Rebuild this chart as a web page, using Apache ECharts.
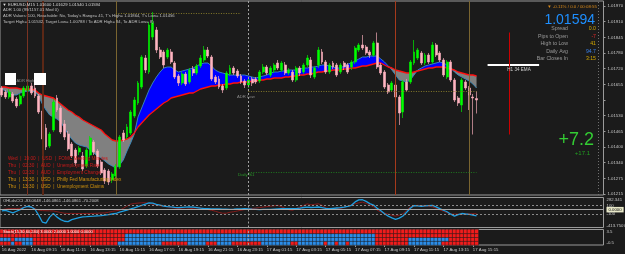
<!DOCTYPE html>
<html><head><meta charset="utf-8">
<script src="https://cdn.jsdelivr.net/npm/echarts@6/dist/echarts.min.js"></script>
<style>html,body{margin:0;padding:0;background:#1b1b1b;}#c{width:625px;height:254px;}</style>
</head><body><div id="c"></div>
<script>
// ---------- DATA ----------
// M15 bars, 16 Aug 07:15 .. 17 Aug 15:30 : [open, close, low, high]
const candles = [
[1.01642,1.01614,1.01606,1.01650],[1.01626,1.01606,1.01598,1.01634],[1.01606,1.01626,1.01598,1.01638],[1.01618,1.01590,1.01582,1.01626],[1.01598,1.01570,1.01562,1.01606],
[1.01578,1.01610,1.01570,1.01618],[1.01610,1.01642,1.01602,1.01650],[1.01630,1.01650,1.01622,1.01658],[1.01650,1.01622,1.01614,1.01662],[1.01642,1.01610,1.01602,1.01654],
[1.01610,1.01546,1.01538,1.01618],[1.01550,1.01438,1.01430,1.01558],[1.01482,1.01406,1.01394,1.01498],[1.01410,1.01458,1.01402,1.01466],[1.01474,1.01586,1.01466,1.01598],
[1.01602,1.01554,1.01546,1.01614],[1.01562,1.01466,1.01458,1.01570],[1.01498,1.01446,1.01434,1.01514],[1.01458,1.01398,1.01390,1.01470],[1.01418,1.01370,1.01362,1.01426],
[1.01394,1.01342,1.01330,1.01402],[1.01386,1.01402,1.01374,1.01410],[1.01370,1.01318,1.01310,1.01386],[1.01330,1.01394,1.01322,1.01402],[1.01374,1.01442,1.01362,1.01450],
[1.01426,1.01386,1.01374,1.01434],[1.01390,1.01330,1.01322,1.01398],[1.01346,1.01302,1.01294,1.01354],[1.01314,1.01270,1.01258,1.01322],[1.01310,1.01266,1.01254,1.01318],
[1.01274,1.01298,1.01262,1.01306],[1.01290,1.01330,1.01282,1.01338],[1.01326,1.01446,1.01318,1.01454],[1.01462,1.01434,1.01426,1.01474],[1.01446,1.01486,1.01438,1.01498],
[1.01462,1.01546,1.01454,1.01554],[1.01530,1.01594,1.01522,1.01606],[1.01582,1.01662,1.01574,1.01670],[1.01646,1.01766,1.01638,1.01774],[1.01762,1.01714,1.01702,1.01774],
[1.01706,1.01894,1.01698,1.01906],[1.01846,1.01902,1.01834,1.01946],[1.01874,1.01794,1.01782,1.01886],[1.01794,1.01766,1.01758,1.01806],[1.01786,1.01734,1.01722,1.01794],
[1.01766,1.01794,1.01758,1.01802],[1.01786,1.01746,1.01738,1.01798],[1.01742,1.01686,1.01678,1.01750],[1.01690,1.01662,1.01650,1.01698],[1.01662,1.01698,1.01654,1.01706],
[1.01698,1.01658,1.01650,1.01706],[1.01666,1.01714,1.01658,1.01722],[1.01718,1.01702,1.01690,1.01730],[1.01702,1.01730,1.01694,1.01738],[1.01730,1.01762,1.01722,1.01774],
[1.01754,1.01794,1.01746,1.01810],[1.01794,1.01770,1.01762,1.01806],[1.01766,1.01678,1.01670,1.01774],[1.01686,1.01666,1.01658,1.01694],[1.01678,1.01646,1.01638,1.01690],
[1.01650,1.01634,1.01622,1.01658],[1.01642,1.01702,1.01634,1.01710],[1.01698,1.01722,1.01690,1.01734],[1.01722,1.01702,1.01694,1.01730],[1.01710,1.01690,1.01682,1.01718],
[1.01690,1.01666,1.01658,1.01698],[1.01670,1.01654,1.01642,1.01678],[1.01654,1.01674,1.01642,1.01682],[1.01678,1.01662,1.01650,1.01686],[1.01678,1.01666,1.01658,1.01686],
[1.01670,1.01706,1.01662,1.01714],[1.01706,1.01726,1.01698,1.01738],[1.01726,1.01702,1.01694,1.01734],[1.01694,1.01722,1.01686,1.01730],[1.01714,1.01734,1.01702,1.01742],
[1.01742,1.01722,1.01714,1.01754],[1.01714,1.01742,1.01706,1.01750],[1.01734,1.01702,1.01694,1.01746],[1.01702,1.01714,1.01694,1.01722],[1.01706,1.01674,1.01666,1.01714],
[1.01674,1.01722,1.01666,1.01730],[1.01722,1.01702,1.01690,1.01730],[1.01706,1.01734,1.01698,1.01742],[1.01734,1.01762,1.01726,1.01774],[1.01754,1.01694,1.01682,1.01766],
[1.01686,1.01722,1.01678,1.01730],[1.01734,1.01794,1.01722,1.01806],[1.01786,1.01746,1.01738,1.01798],[1.01746,1.01706,1.01698,1.01754],[1.01706,1.01734,1.01698,1.01742],
[1.01742,1.01726,1.01718,1.01750],[1.01734,1.01694,1.01686,1.01742],[1.01706,1.01734,1.01698,1.01742],[1.01742,1.01726,1.01714,1.01750],[1.01734,1.01706,1.01698,1.01742],
[1.01726,1.01746,1.01714,1.01754],[1.01746,1.01802,1.01738,1.01810],[1.01794,1.01814,1.01786,1.01822],[1.01814,1.01802,1.01794,1.01854],[1.01806,1.01782,1.01774,1.01814],
[1.01786,1.01774,1.01762,1.01794],[1.01774,1.01822,1.01766,1.01830],[1.01822,1.01726,1.01718,1.01864],[1.01734,1.01702,1.01694,1.01742],[1.01706,1.01646,1.01638,1.01714],
[1.01654,1.01626,1.01618,1.01662],[1.01634,1.01662,1.01626,1.01670],[1.01654,1.01606,1.01598,1.01662],[1.01606,1.01542,1.01494,1.01614],[1.01546,1.01666,1.01522,1.01674],
[1.01666,1.01634,1.01626,1.01678],[1.01666,1.01746,1.01658,1.01754],[1.01742,1.01786,1.01734,1.01834],[1.01762,1.01794,1.01754,1.01802],[1.01782,1.01742,1.01734,1.01790],
[1.01742,1.01774,1.01734,1.01782],[1.01774,1.01746,1.01738,1.01782],[1.01746,1.01814,1.01738,1.01826],[1.01814,1.01774,1.01766,1.01822],[1.01782,1.01754,1.01746,1.01790],
[1.01754,1.01694,1.01686,1.01762],[1.01686,1.01746,1.01678,1.01754],[1.01746,1.01674,1.01666,1.01754],[1.01674,1.01594,1.01586,1.01682],[1.01602,1.01582,1.01570,1.01610],
[1.01574,1.01674,1.01546,1.01682],[1.01666,1.01642,1.01634,1.01674],[1.01642,1.01614,1.01554,1.01650],[1.01606,1.01602,1.01456,1.01618],[1.01600,1.01594,1.01540,1.01629]
];
// slow EMA (red) and fast EMA (steel blue) of the cloud
const emaSlow = [
1.01646,1.01646,1.01642,1.01642,1.01642,1.01638,1.01638,1.01638,1.01638,1.01634,
1.01622,1.01614,1.01610,1.01606,1.01602,1.01590,1.01578,1.01566,1.01554,1.01546,
1.01534,1.01526,1.01514,1.01506,1.01498,1.01490,1.01482,1.01474,1.01458,1.01446,
1.01434,1.01430,1.01430,1.01434,1.01438,1.01446,1.01462,1.01486,1.01502,1.01518,
1.01534,1.01546,1.01558,1.01570,1.01582,1.01590,1.01602,1.01606,1.01610,1.01614,
1.01618,1.01622,1.01622,1.01630,1.01638,1.01642,1.01646,1.01650,1.01650,1.01654,
1.01654,1.01658,1.01658,1.01662,1.01662,1.01666,1.01666,1.01666,1.01670,1.01670,
1.01674,1.01674,1.01678,1.01678,1.01682,1.01682,1.01682,1.01686,1.01686,1.01690,
1.01690,1.01694,1.01694,1.01698,1.01698,1.01702,1.01706,1.01706,1.01710,1.01710,
1.01714,1.01714,1.01714,1.01718,1.01718,1.01722,1.01722,1.01726,1.01730,1.01730,
1.01734,1.01738,1.01742,1.01742,1.01734,1.01726,1.01722,1.01714,1.01710,1.01706,
1.01702,1.01702,1.01706,1.01710,1.01714,1.01718,1.01722,1.01722,1.01726,1.01726,
1.01726,1.01722,1.01718,1.01714,1.01706,1.01702,1.01698,1.01694,1.01694,1.01690];
const emaFast = [
1.01638,1.01630,1.01622,1.01614,1.01614,1.01622,1.01626,1.01630,1.01630,1.01626,
1.01610,1.01578,1.01554,1.01534,1.01526,1.01518,1.01506,1.01482,1.01458,1.01438,
1.01422,1.01414,1.01410,1.01406,1.01394,1.01382,1.01370,1.01362,1.01350,1.01338,
1.01330,1.01322,1.01334,1.01354,1.01390,1.01422,1.01458,1.01526,1.01562,1.01598,
1.01634,1.01662,1.01686,1.01706,1.01722,1.01726,1.01726,1.01714,1.01706,1.01710,
1.01714,1.01718,1.01722,1.01730,1.01738,1.01742,1.01742,1.01730,1.01714,1.01706,
1.01702,1.01698,1.01694,1.01694,1.01694,1.01694,1.01694,1.01690,1.01686,1.01682,
1.01686,1.01690,1.01694,1.01702,1.01706,1.01706,1.01710,1.01710,1.01714,1.01714,
1.01714,1.01718,1.01722,1.01722,1.01726,1.01726,1.01730,1.01734,1.01734,1.01730,
1.01726,1.01722,1.01722,1.01730,1.01738,1.01742,1.01750,1.01758,1.01766,1.01766,
1.01770,1.01770,1.01770,1.01758,1.01746,1.01730,1.01714,1.01694,1.01674,1.01670,
1.01666,1.01674,1.01694,1.01714,1.01722,1.01730,1.01734,1.01738,1.01742,1.01746,
1.01742,1.01734,1.01722,1.01706,1.01694,1.01686,1.01678,1.01670,1.01658,1.01642];
// OHLdsCCI panel
const cciFast = [
-29.6,-18.2,-47.9,-75.2,-36.5,2.3,50.2,77.5,61.6,9.1,
-127.7,-287.3,-310.1,-173.3,-88.9,-173.3,-230.3,-269,-275.9,-230.3,
-207.5,-184.7,-166.4,-161.9,-155,-150.5,-143.6,-136.8,-127.7,-116.3,
-100.3,-88.9,-59.3,-31.9,-9.1,16,43.3,73,100.3,127.7,
155,150.5,123.1,104.9,84.4,73,63.8,54.7,47.9,52.4,
57,61.6,57,45.6,34.2,25.1,22.8,20.5,18.2,16,
13.7,11.4,9.1,11.4,16,20.5,25.1,18.2,11.4,6.8,
2.3,4.6,6.8,9.1,13.7,18.2,22.8,25.1,25.1,25.1,
25.1,36.5,50.2,57,50.2,54.7,61.6,47.9,31.9,25.1,
31.9,38.8,45.6,59.3,77.5,100.3,180.1,225.7,230.3,191.5,
141.4,107.2,31.9,-25.1,-93.5,-150.5,-191.5,-223.4,-196.1,-145.9,
-59.3,31.9,95.8,88.9,77.5,86.6,95.8,100.3,66.1,25.1,
-13.7,-47.9,-104.9,-150.5,-116.3,-88.9,-100.3,-109.4,-127.7,-146.1];
const cciSlow = [
2.3,13.7,25.1,25.1,25.1,31.9,54.7,73,66.1,20.5,
-13.7,-20.5,-25.1,-27.4,-29.6,-47.9,-66.1,-82.1,-88.9,-86,
-90,-88,-91,-87,-89,-86.6,-82.1,-77.5,-75.2,-59.3,
-41,-25.1,-13.7,31.9,82.1,127.7,143.6,152.8,159.6,161.9,
145.9,127.7,109.4,93.5,79.8,63.8,50.2,38.8,27.4,16,
9.1,20.5,31.9,43.3,36.5,20.5,2.3,-13.7,-36.5,-63.8,
-82.1,-82.1,-59.3,-47.9,-31.9,-13.7,2.3,16,25.1,36.5,
47.9,59.3,70.7,82.1,91.2,100.3,66.1,31.9,-2.3,-13.7,
20.5,59.3,95.8,134.5,111.7,123.1,136.8,100.3,43.3,25.1,
25.1,25.1,25.1,54.7,82.1,111.7,139.1,157.3,175.6,145.9,
111.7,66.1,-13.7,-54.7,-82.1,-104.9,-127.7,-150.5,-127.7,-93.5,
-13.7,66.1,88.9,100.3,93.5,88.9,82.1,63.8,31.9,-2.3,
-36.5,-70.7,-104.9,-102,-106,-101,-98,-97,-95,-93.1];
const cciMax = 282.341, cciMin = -413.7507;
const cciScaleText = ['282.341', '-413.7507'];
// 4-row trend strip, runs of (r = red, b = blue) per bar, row 0 = bottom
const stochRuns = [
 [['r',3],['b',1],['r',2],['b',3],['r',23],['b',12],['r',7],['b',5],['r',3],['b',4],['r',8],['b',8],['r',2],['b',7],['r',1],['b',2],['r',1],['b',2],['r',1],['b',7],['r',9],['b',9],['r',10]],
 [['b',3],['r',1],['b',5],['r',25],['b',68],['r',9],['b',11],['r',8]],
 [['r',34],['b',68],['r',28]],
 [['r',130]]
];
const stripScaleText = ['3.5', '-0.5'];
// right price scale (top to bottom), hidden one sits under the bid box
const priceTicks = ['1.01970','1.01910','1.01845','1.01780','1.01720','1.01655','','1.01530','1.01465','1.01400','1.01340','1.01275','1.01215'];
const timeLabels = ['16 Aug 2022','16 Aug 09:15','16 Aug 11:15','16 Aug 13:15','16 Aug 15:15','16 Aug 17:15','16 Aug 19:15','16 Aug 21:15','16 Aug 23:15','17 Aug 01:15','17 Aug 03:15','17 Aug 05:15','17 Aug 07:15','17 Aug 09:15','17 Aug 11:15','17 Aug 13:15','17 Aug 15:15'];
const labelStep = 8;
const bid = 1.01594;
// levels
const dailyPivotLine = 1.01666, yHighLine = 1.01940, adrLowLine = 1.01630, dailyS1 = 1.01306, h1Ema = 1.01735;
const todayHigh = 1.01864, todayLow = 1.01456;
// event bars (bar index)
const eventBars = [[7,'#7a3322',1],[11,'#5c2816',2],[31,'#7a6530',1],[107,'#a63a1c',1],[127,'#7a6530',1]];
const daySepBar = 67;
const slotCount = 164;

// ---------- BUILD ----------
const cats = Array.from({length: slotCount}, (_, i) => String(i));
const cloudBase = emaSlow.map((s, i) => Math.min(s, emaFast[i]));
const cloudUp = emaSlow.map((s, i) => emaFast[i] > s ? +(emaFast[i] - s).toFixed(6) : 0);
const cloudDown = emaSlow.map((s, i) => s > emaFast[i] ? +(s - emaFast[i]).toFixed(6) : 0);
const stripData = [];
stochRuns.forEach((runs, r) => { let i = 0; runs.forEach(([c, n]) => { for (let k = 0; k < n; k++) { stripData.push([i, r, c === 'b' ? 1 : 0]); i++; } }); });

const FONT = '"Liberation Sans","DejaVu Sans",Arial,sans-serif';
const LBL = '#c8c8c8', BORDER = '#9a9a9a';
function T(x, y, text, fill, size, align) {
  return {type: 'text', x: x, y: y, z: 100, silent: true,
    style: {text: text, fill: fill, font: size + 'px ' + FONT, align: align || 'left', verticalAlign: 'middle'}};
}
const graphics = [
  T(2.5, 4.5, '\u25BC', '#e0e0e0', 4),
  T(8, 4.5, 'EURUSD,M15 1.01600 1.01629 1.01540 1.01594', '#d8d8d8', 4.2),
  T(3, 10.2, 'ADR 1.00 (99/1157.01 Med 0)', '#c0c0c0', 4.2),
  T(3, 15.7, "ADR Values: 100, Reachable: No, Today's Range= 41, T's High= 1.01864, T's Low= 1.01456", '#c0c0c0', 4.2),
  T(3, 21.8, 'Target High= 1.01532, Target Low= 1.00788 / To ADR High= 94, To ADR Low= 8)', '#c0c0c0', 4.2),
  {type: 'rect', z: 100, silent: true, shape: {x: 5, y: 73, width: 11, height: 12}, style: {fill: '#ffffff'}},
  {type: 'rect', z: 100, silent: true, shape: {x: 34, y: 73, width: 12, height: 12}, style: {fill: '#ffffff'}},
  T(16.5, 80.5, 'ADR High', '#8a8a8a', 4),
  T(237, 96.8, 'ADR Low', '#8a8a8a', 4.2),
  T(238, 175, 'Daily S1', '#2a9a2a', 4.4),
  T(519, 69.5, 'H1 34 EMA', '#cfcfcf', 4.6, 'center'),
  T(8, 159, 'Wed  |  19:00  |  USD  |  FOMC Meeting Minutes', '#cc1a1a', 4.7),
  T(8, 166, 'Thu  |  02:30  |  AUD  |  Unemployment Rate', '#cc1a1a', 4.7),
  T(8, 173, 'Thu  |  02:30  |  AUD  |  Employment Change', '#cc1a1a', 4.7),
  T(8, 180, 'Thu  |  13:30  |  USD  |  Philly Fed Manufacturing Index', '#d4940c', 4.7),
  T(8, 187, 'Thu  |  13:30  |  USD  |  Unemployment Claims', '#d4940c', 4.7),
  T(597, 7, '\u25BC -0.11% / 0.0 / 00:08:55', '#d98a1a', 4.4, 'right'),
  T(595, 20.5, '1.01594', '#1e8fff', 14, 'right'),
  T(568, 29, 'Spread', '#9a9a9a', 5.2, 'right'), T(596, 29, '0.0', '#d4a800', 5.2, 'right'),
  T(568, 36.5, 'Pips to Open', '#9a9a9a', 5.2, 'right'), T(596, 36.5, '-7', '#e02828', 5.2, 'right'),
  T(568, 43.8, 'High to Low', '#9a9a9a', 5.2, 'right'), T(596, 43.8, '41', '#d4a800', 5.2, 'right'),
  T(568, 51.2, 'Daily Avg', '#9a9a9a', 5.2, 'right'), T(596, 51.2, '94.7', '#3a80e8', 5.2, 'right'),
  T(568, 58.6, 'Bar Closes In', '#9a9a9a', 5.2, 'right'), T(596, 58.6, '3:15', '#d4a800', 5.2, 'right'),
  T(594, 140, '+7.2', '#33cc33', 18, 'right'),
  T(590, 153, '+17.1', '#22a022', 6, 'right'),
  T(3, 201, 'OHLdsCCI -93.0648 -146.0861 -146.0861 -70.2008', '#c8c8c8', 4.2),
  T(3, 232, 'Stoch(15,30,60,240) 3.0000 2.0000 1.0000 0.0000', '#ffffff', 4)
];

const vLine = (b, color, w, type) => ({xAxis: b, lineStyle: {color: color, width: w, type: type || 'solid'}});
const mainMarks = [
  ...eventBars.map(e => vLine(e[0], e[1], e[2])),
  vLine(daySepBar, '#a0a0a0', 1, [2, 2]),
  vLine(162, '#707070', 1, [1, 2]),
  {yAxis: dailyPivotLine, lineStyle: {color: '#1f8a1f', width: 1, type: [6, 2, 1, 2]}},
  {yAxis: bid, lineStyle: {color: '#a8a8a8', width: 1, type: 'solid'},
   label: {show: true, position: 'end', distance: 2, formatter: '1.01594', color: '#000', backgroundColor: '#e8e8e8', padding: [1, 2, 0.5, 2], fontSize: 4.3, fontFamily: FONT}},
  [{coord: [31, yHighLine], lineStyle: {color: '#857a2a', width: 1, type: [1, 1.5]}}, {coord: [65, yHighLine]}],
  [{coord: [67, adrLowLine], lineStyle: {color: '#857a2a', width: 1, type: [1, 1.5]}}, {coord: [129, adrLowLine]}],
  [{coord: [67, dailyS1], lineStyle: {color: '#1f7a1f', width: 1, type: [1, 1.5]}}, {coord: [129, dailyS1]}],
  [{coord: [132, h1Ema], lineStyle: {color: '#ffffff', width: 2, type: 'solid'}}, {coord: [146, h1Ema]}],
  [{coord: [138, todayHigh], lineStyle: {color: '#cc0000', width: 1, type: 'solid'}}, {coord: [138, todayLow]}]
];
const cciMarks = [
  {yAxis: 100, lineStyle: {color: '#8a8a8a', width: 1, type: [2, 2]}, label: {show: true, formatter: '100'}},
  {yAxis: 0, lineStyle: {color: '#a8a8a8', width: 1, type: 'solid'},
   label: {show: true, formatter: '0.0000', color: '#000', backgroundColor: '#e8e8c8', padding: [1, 2, 0.5, 2]}},
  {yAxis: -100, lineStyle: {color: '#8a8a8a', width: 1, type: [2, 2]}, label: {show: true, formatter: '-100'}},
  vLine(daySepBar, '#a0a0a0', 1, [2, 2])
];
const mlBase = {symbol: ['none', 'none'], silent: true, animation: false,
  label: {show: false, position: 'end', distance: 3, color: LBL, fontSize: 4.3, fontFamily: FONT}, emphasis: {disabled: true}};

const near = (a, b) => Math.abs(a - b) < 1e-6;
const hideAxis = {show: false};
const option = {
  backgroundColor: '#1b1b1b',
  animation: false,
  textStyle: {fontFamily: FONT},
  grid: [
    {left: 0, top: 1, width: 603.5, height: 194, show: true, borderColor: BORDER, borderWidth: 1, backgroundColor: 'transparent', containLabel: false, outerBoundsMode: 'none'},
    {left: 0, top: 197.5, width: 603.5, height: 30, show: true, borderColor: BORDER, borderWidth: 1, backgroundColor: 'transparent', containLabel: false, outerBoundsMode: 'none'},
    {left: 0, top: 229.5, width: 603.5, height: 15.5, show: true, borderColor: BORDER, borderWidth: 1, backgroundColor: 'transparent', containLabel: false, outerBoundsMode: 'none'},
    {left: 603.5, top: 6, width: 1, height: 188, show: false, containLabel: false, outerBoundsMode: 'none'}
  ],
  xAxis: [
    {type: 'category', gridIndex: 0, data: cats, boundaryGap: true, show: false},
    {type: 'category', gridIndex: 1, data: cats, boundaryGap: true, show: false},
    {type: 'category', gridIndex: 2, data: cats, boundaryGap: true, position: 'bottom',
      axisLine: {show: false, onZero: false},
      axisTick: {show: true, alignWithLabel: true, length: 2, interval: (i) => i % labelStep === 0 && i / labelStep < timeLabels.length, lineStyle: {color: BORDER}},
      axisLabel: {show: true, interval: (i) => i % labelStep === 0 && i / labelStep < timeLabels.length,
        formatter: (v, i) => timeLabels[i / labelStep] || '', align: 'left', margin: 2.5, fontSize: 4.3, color: LBL, fontFamily: FONT},
      splitLine: {show: false}},
    {type: 'value', gridIndex: 3, show: false}
  ],
  yAxis: [
    {type: 'value', gridIndex: 0, min: 1.01214, max: 1.01990, show: false, splitLine: {show: false}},
    {type: 'value', gridIndex: 1, min: cciMin, max: cciMax, position: 'right', splitLine: {show: false},
      axisLine: {show: false}, axisTick: {show: false},
      axisLabel: {show: true, margin: 3, fontSize: 4.3, color: LBL, fontFamily: FONT, showMinLabel: true, showMaxLabel: true,
        verticalAlignMaxLabel: 'top', verticalAlignMinLabel: 'bottom',
        formatter: (v) => near(v, cciMax) ? cciScaleText[0] : (near(v, cciMin) ? cciScaleText[1] : '')}},
    {type: 'category', gridIndex: 2, data: ['0', '1', '2', '3'], show: false},
    {type: 'value', gridIndex: 2, min: 0, max: 1, position: 'right', splitLine: {show: false},
      axisLine: {show: false}, axisTick: {show: false},
      axisLabel: {show: true, margin: 3, fontSize: 4.3, color: LBL, fontFamily: FONT, showMinLabel: true, showMaxLabel: true,
        verticalAlignMaxLabel: 'top', verticalAlignMinLabel: 'bottom',
        formatter: (v) => near(v, 1) ? stripScaleText[0] : (near(v, 0) ? stripScaleText[1] : '')}},
    {type: 'category', gridIndex: 3, data: priceTicks, inverse: true, boundaryGap: false, position: 'right',
      axisLine: {show: false}, axisTick: {show: true, length: 2, interval: 0, lineStyle: {color: BORDER}},
      axisLabel: {show: true, interval: 0, margin: 3, fontSize: 4.3, color: LBL, fontFamily: FONT}, splitLine: {show: false}}
  ],
  visualMap: [{type: 'piecewise', show: false, seriesIndex: 8, dimension: 2,
    pieces: [{value: 0, color: '#f21c1c'}, {value: 1, color: '#2b8de8'}]}],
  series: [
    {name: 'base', type: 'line', xAxisIndex: 0, yAxisIndex: 0, stack: 'cloud', data: cloudBase, showSymbol: false, symbol: 'none',
      lineStyle: {opacity: 0}, z: 1, silent: true},
    {name: 'up', type: 'line', xAxisIndex: 0, yAxisIndex: 0, stack: 'cloud', data: cloudUp, showSymbol: false, symbol: 'none',
      lineStyle: {opacity: 0}, areaStyle: {color: '#0000ff', opacity: 1}, z: 1, silent: true},
    {name: 'down', type: 'line', xAxisIndex: 0, yAxisIndex: 0, stack: 'cloud', data: cloudDown, showSymbol: false, symbol: 'none',
      lineStyle: {opacity: 0}, areaStyle: {color: '#808080', opacity: 1}, z: 1, silent: true},
    {name: 'emaFast', type: 'line', xAxisIndex: 0, yAxisIndex: 0, data: emaFast, showSymbol: false, symbol: 'none',
      lineStyle: {color: '#3a8cc0', width: 0.9}, z: 2, silent: true},
    {name: 'emaSlow', type: 'line', xAxisIndex: 0, yAxisIndex: 0, data: emaSlow, showSymbol: false, symbol: 'none',
      lineStyle: {color: '#ff1010', width: 1.3}, z: 2, silent: true},
    {name: 'price', type: 'candlestick', xAxisIndex: 0, yAxisIndex: 0, data: candles, barWidth: 2.4, z: 3, silent: true,
      itemStyle: {color: '#00ff00', color0: '#ffb6c1', borderColor: '#00e800', borderColor0: '#f0a8b4', borderWidth: 0.7},
      markLine: Object.assign({}, mlBase, {data: mainMarks})},
    {name: 'cciFast', type: 'line', xAxisIndex: 1, yAxisIndex: 1, data: cciFast, showSymbol: false, symbol: 'none',
      lineStyle: {color: '#1e9ee0', width: 1.3}, z: 3, silent: true,
      markLine: Object.assign({}, mlBase, {data: cciMarks})},
    {name: 'cciSlow', type: 'line', xAxisIndex: 1, yAxisIndex: 1, data: cciSlow, showSymbol: false, symbol: 'none',
      lineStyle: {color: '#8e1a1a', width: 0.9}, z: 2, silent: true},
    {name: 'strip', type: 'heatmap', xAxisIndex: 2, yAxisIndex: 2, data: stripData, silent: true,
      itemStyle: {borderColor: '#1b1b1b', borderWidth: 0.5}},
    {name: 'sep', type: 'line', xAxisIndex: 2, yAxisIndex: 2, data: [], silent: true,
      markLine: Object.assign({}, mlBase, {data: [vLine(daySepBar, '#a0a0a0', 1, [2, 2])]}), z: 5}
  ],
  graphic: graphics
};
const chart = echarts.init(document.getElementById('c'), null, {renderer: 'canvas'});
chart.setOption(option);
</script></body></html>
